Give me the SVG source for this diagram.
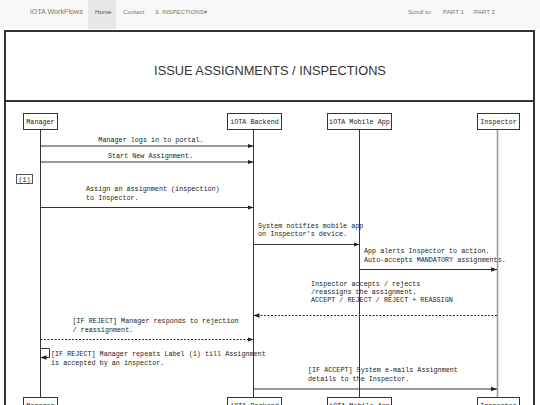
<svg xmlns="http://www.w3.org/2000/svg" width="540" height="405" viewBox="0 0 540 405">
<defs>
<style>
.nav{font-family:"Liberation Sans",Arial,sans-serif;font-size:6.2px;fill:#777}
.brand{font-family:"Liberation Sans",Arial,sans-serif;font-size:7.2px;fill:#777}
.title{font-family:"Liberation Sans",Arial,sans-serif;font-size:12.8px;fill:#333;text-anchor:middle}
.m{font-family:"Liberation Mono","DejaVu Sans Mono",monospace;font-size:6.75px;fill:#222}
.c{text-anchor:middle}
.box{fill:#fff;stroke:#333;stroke-width:1}
.life{stroke:#333;stroke-width:1;fill:none}
.msg{stroke:#333;stroke-width:1;fill:none;marker-end:url(#ah)}
.dash{stroke-dasharray:2 1.5}
</style>
<marker id="ah" viewBox="0 0 6 6" refX="6" refY="3" markerWidth="6" markerHeight="6" markerUnits="userSpaceOnUse" orient="auto">
<path d="M0,0.8 L6,3 L0,5.2 Z" fill="#222"/>
</marker>
</defs>
<rect x="0" y="0" width="540" height="405" fill="#fff"/>
<g id="navbar">
<rect x="0" y="0" width="540" height="29" fill="#f8f8f8"/>
<rect x="88" y="0" width="28" height="29" fill="#e7e7e7"/>
<text class="brand" x="30" y="14">iOTA WorkFlows</text>
<text class="nav" x="95" y="13.5" fill="#555" style="fill:#555">Home</text>
<text class="nav" x="123" y="13.5">Contact</text>
<text class="nav" x="155" y="13.5">3. INSPECTIONS▾</text>
<text class="nav" x="408" y="13.5">Scroll to:</text>
<text class="nav" x="443" y="13.5">PART 1</text>
<text class="nav" x="474" y="13.5">PART 2</text>
</g>
<g id="frame">
<rect x="5" y="31" width="529" height="390" fill="#fff" stroke="#333" stroke-width="2"/>
<line x1="5" y1="101" x2="534" y2="101" stroke="#333" stroke-width="2"/>
<text class="title" x="270" y="75">ISSUE ASSIGNMENTS / INSPECTIONS</text>
</g>
<g id="lifelines">
<line class="life" x1="40.5" y1="129" x2="40.5" y2="397"/>
<line class="life" x1="253.5" y1="129" x2="253.5" y2="397"/>
<line class="life" x1="359.5" y1="129" x2="359.5" y2="397"/>
<line class="life" x1="497.5" y1="129" x2="497.5" y2="397" style="stroke:#999;stroke-width:1.5"/>
</g>
<g id="manager">
<rect class="box" x="23.5" y="113.5" width="34" height="16"/>
<text class="m c" x="40.5" y="124">Manager</text>
</g>
<g id="backend">
<rect class="box" x="227.5" y="113.5" width="54" height="16"/>
<text class="m c" x="254.5" y="124">iOTA Backend</text>
</g>
<g id="mobile">
<rect class="box" x="327.5" y="113.5" width="64" height="16"/>
<text class="m c" x="359.5" y="124">iOTA Mobile App</text>
</g>
<g id="inspector">
<rect class="box" x="477.5" y="113.5" width="42" height="16"/>
<text class="m c" x="498.5" y="124">Inspector</text>
</g>
<g id="label1">
<rect class="box" x="16.5" y="174.5" width="16" height="9" style="stroke:#555"/>
<text class="m c" x="24.5" y="181.5">(1)</text>
</g>
<g id="connectors">
<line class="msg" x1="40.5" y1="146" x2="253.5" y2="146"/>
<line class="msg" x1="40.5" y1="162" x2="253.5" y2="162"/>
<line class="msg" x1="40.5" y1="207.5" x2="253.5" y2="207.5"/>
<line class="msg" x1="253.5" y1="244.5" x2="359.5" y2="244.5"/>
<line class="msg" x1="359.5" y1="269.5" x2="497" y2="269.5"/>
<line class="msg dash" x1="497" y1="315.5" x2="253.5" y2="315.5"/>
<line class="msg dash" x1="40.5" y1="339.5" x2="253.5" y2="339.5"/>
<path class="msg" d="M40.5,348.5 H49.5 V357.5 H40.5"/>
<line class="msg" x1="253.5" y1="389" x2="497" y2="389"/>
</g>
<g id="labels">
<text class="m c" x="151" y="141.5">Manager logs in to portal.</text>
<text class="m c" x="150.5" y="158">Start New Assignment.</text>
<text class="m" x="86" y="191">Assign an assignment (inspection)</text>
<text class="m" x="86" y="199.5">to Inspector.</text>
<text class="m" x="258" y="227.5">System notifies mobile app</text>
<text class="m" x="258" y="236">on Inspector's device.</text>
<text class="m" x="364" y="253">App alerts Inspector to action.</text>
<text class="m" x="364" y="261.5">Auto-accepts MANDATORY assignments.</text>
<text class="m" x="311" y="286">Inspector accepts / rejects</text>
<text class="m" x="311" y="294">/reassigns the assignment.</text>
<text class="m" x="311" y="302">ACCEPT / REJECT / REJECT + REASSIGN</text>
<text class="m" x="72.5" y="323">[IF REJECT] Manager responds to rejection</text>
<text class="m" x="72.5" y="331.5">/ reassignment.</text>
<text class="m" x="51" y="356">[IF REJECT] Manager repeats Label (1) till Assignment</text>
<text class="m" x="51" y="364.5">is accepted by an inspector.</text>
<text class="m" x="308" y="372">[IF ACCEPT] System e-mails Assignment</text>
<text class="m" x="308" y="380.5">details to the Inspector.</text>
</g>
<g id="manager-bottom">
<rect class="box" x="23.5" y="397.5" width="34" height="16"/>
<text class="m c" x="40.5" y="408">Manager</text>
</g>
<g id="backend-bottom">
<rect class="box" x="227.5" y="397.5" width="54" height="16"/>
<text class="m c" x="254.5" y="408">iOTA Backend</text>
</g>
<g id="mobile-bottom">
<rect class="box" x="327.5" y="397.5" width="64" height="16"/>
<text class="m c" x="359.5" y="408">iOTA Mobile App</text>
</g>
<g id="inspector-bottom">
<rect class="box" x="477.5" y="397.5" width="42" height="16"/>
<text class="m c" x="498.5" y="408">Inspector</text>
</g>
</svg>
